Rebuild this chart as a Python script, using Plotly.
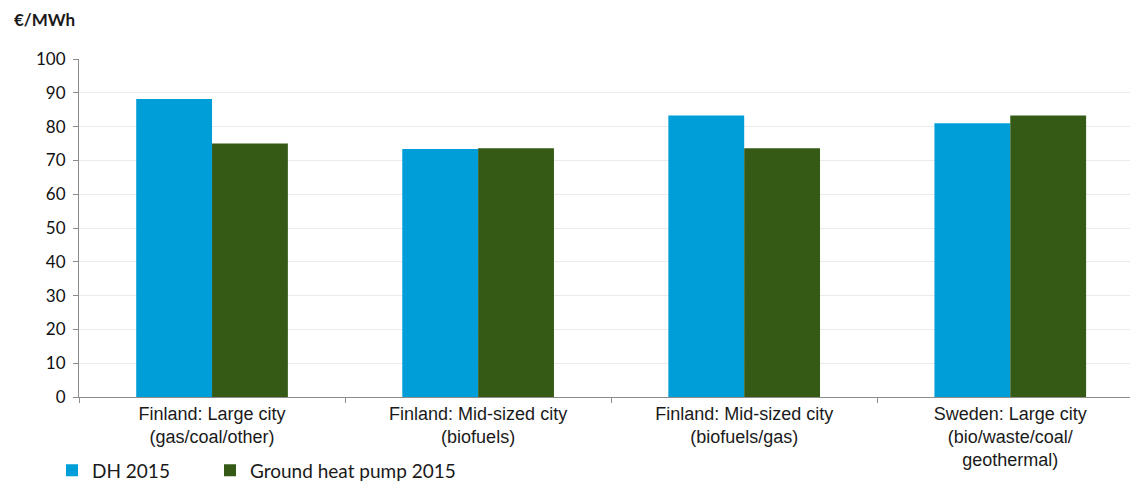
import plotly.graph_objects as go

categories = [
    "Finland: Large city<br>(gas/coal/other)",
    "Finland: Mid-sized city<br>(biofuels)",
    "Finland: Mid-sized city<br>(biofuels/gas)",
    "Sweden: Large city<br>(bio/waste/coal/<br>geothermal)",
]
dh_2015 = [88.2, 73.4, 83.3, 81.0]
ghp_2015 = [75.0, 73.6, 73.6, 83.3]
y_ticks = [0, 10, 20, 30, 40, 50, 60, 70, 80, 90, 100]

fig = go.Figure()
fig.add_trace(go.Bar(x=categories, y=dh_2015, name="DH 2015", legend="legend",
                     marker=dict(color="#009ED8", line=dict(width=0))))
fig.add_trace(go.Bar(x=categories, y=ghp_2015, name="Ground heat pump 2015", legend="legend2",
                     marker=dict(color="#345A15", line=dict(width=0))))

leg_font = dict(family="Lato, Liberation Sans", size=19, color="#1a1a1a")
fig.update_layout(
    width=1130, height=484,
    margin=dict(l=79, r=0, t=59, b=87, autoexpand=False),
    plot_bgcolor="white", paper_bgcolor="white",
    barmode="group", bargap=0.43, bargroupgap=0,
    font=dict(family="Liberation Sans, Arial", size=15, color="#1a1a1a"),
    showlegend=True,
    legend=dict(orientation="h", xref="container", yref="container",
                x=52/1130, y=0.028, xanchor="left", yanchor="middle",
                font=leg_font, itemwidth=30),
    legend2=dict(orientation="h", xref="container", yref="container",
                 x=210/1130, y=0.028, xanchor="left", yanchor="middle",
                 font=leg_font, itemwidth=30),
    annotations=[dict(text="<b>€/MWh</b>", xref="paper", yref="paper",
                      x=(12 - 79)/1051, y=1 + (59 - 20)/338, xanchor="left", yanchor="middle",
                      showarrow=False,
                      font=dict(family="Lato, Liberation Sans", size=17, color="#1a1a1a"))],
)
fig.update_xaxes(range=[-0.5, 3.45], showline=True, linecolor="#8c8c8c", linewidth=1,
                 ticks="outside", tickson="boundaries", ticklen=5, tickcolor="#8c8c8c",
                 showgrid=False, automargin=False,
                 tickfont=dict(family="Liberation Sans, Arial", size=18))
fig.update_yaxes(range=[0, 100], tickvals=y_ticks, showline=True, linecolor="#8c8c8c",
                 linewidth=1, ticks="outside", ticklen=5, tickcolor="#8c8c8c",
                 showgrid=True, gridcolor="#ebebeb", gridwidth=1, zeroline=False,
                 automargin=False,
                 tickfont=dict(family="Lato, Liberation Sans", size=17, color="#111111"),
                 ticklabelstandoff=4)

fig.write_html("out.html")
